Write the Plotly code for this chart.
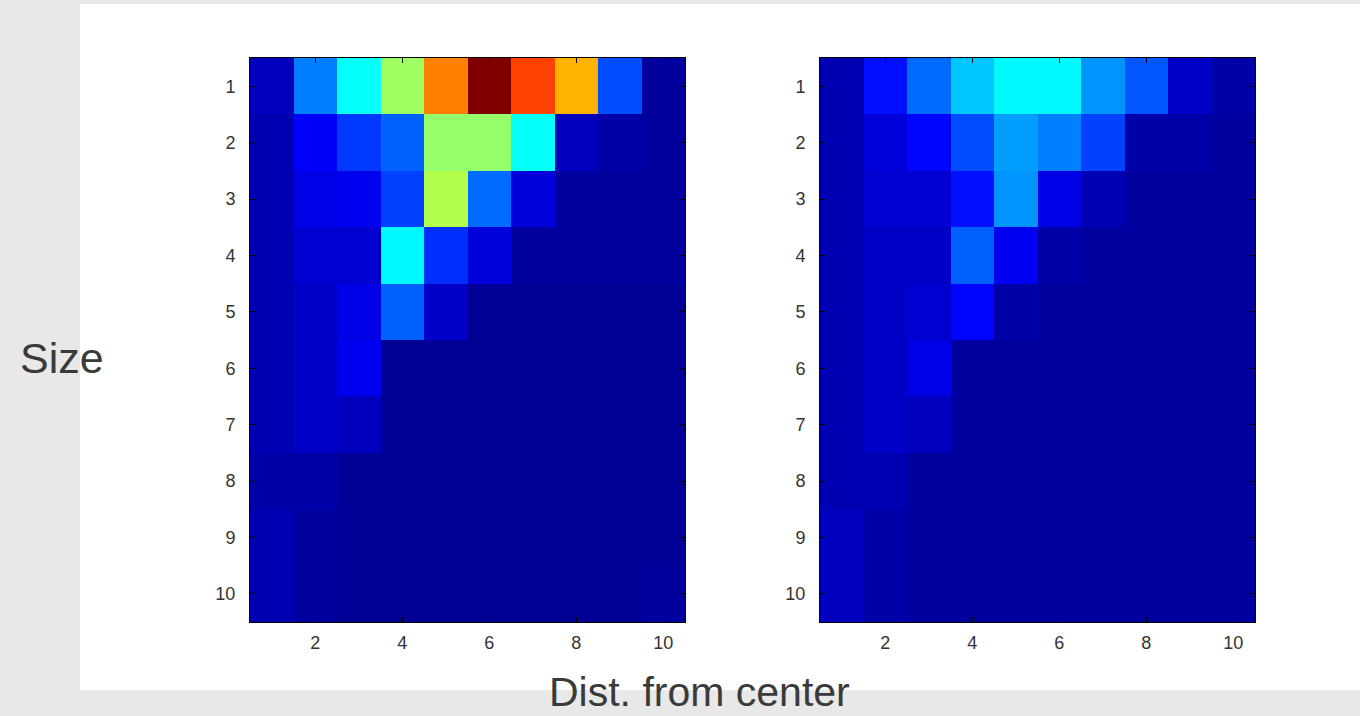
import plotly.graph_objects as go

dist = list(range(1, 11))
sizes = list(range(1, 11))

left_vals = [
    [0.06, 0.25, 0.38, 0.53, 0.75, 1.00, 0.81, 0.70, 0.20, 0.03],
    [0.05, 0.12, 0.18, 0.22, 0.52, 0.52, 0.38, 0.06, 0.04, 0.03],
    [0.05, 0.10, 0.11, 0.19, 0.55, 0.23, 0.09, 0.03, 0.03, 0.03],
    [0.05, 0.08, 0.08, 0.37, 0.17, 0.09, 0.03, 0.03, 0.03, 0.03],
    [0.05, 0.07, 0.10, 0.22, 0.07, 0.02, 0.02, 0.02, 0.02, 0.02],
    [0.05, 0.07, 0.11, 0.02, 0.02, 0.02, 0.02, 0.02, 0.02, 0.02],
    [0.05, 0.07, 0.06, 0.02, 0.02, 0.02, 0.02, 0.02, 0.02, 0.02],
    [0.04, 0.04, 0.02, 0.02, 0.02, 0.02, 0.02, 0.02, 0.02, 0.02],
    [0.05, 0.03, 0.02, 0.02, 0.02, 0.02, 0.02, 0.02, 0.02, 0.02],
    [0.05, 0.03, 0.02, 0.02, 0.02, 0.02, 0.02, 0.02, 0.02, 0.03],
]

right_vals = [
    [0.05, 0.14, 0.23, 0.32, 0.37, 0.37, 0.27, 0.21, 0.07, 0.04],
    [0.05, 0.09, 0.13, 0.20, 0.28, 0.25, 0.19, 0.04, 0.04, 0.03],
    [0.05, 0.08, 0.08, 0.14, 0.27, 0.10, 0.05, 0.03, 0.03, 0.03],
    [0.05, 0.07, 0.07, 0.22, 0.11, 0.04, 0.03, 0.03, 0.03, 0.03],
    [0.05, 0.07, 0.08, 0.13, 0.04, 0.03, 0.03, 0.03, 0.03, 0.03],
    [0.05, 0.07, 0.10, 0.03, 0.03, 0.03, 0.03, 0.03, 0.03, 0.03],
    [0.05, 0.07, 0.06, 0.03, 0.03, 0.03, 0.03, 0.03, 0.03, 0.03],
    [0.05, 0.05, 0.03, 0.03, 0.03, 0.03, 0.03, 0.03, 0.03, 0.03],
    [0.06, 0.04, 0.03, 0.03, 0.03, 0.03, 0.03, 0.03, 0.03, 0.03],
    [0.06, 0.04, 0.03, 0.03, 0.03, 0.03, 0.03, 0.03, 0.03, 0.03],
]

x_ticks = [2, 4, 6, 8, 10]
y_ticks = list(range(1, 11))

jet = [
    [0.0, "rgb(0,0,128)"],
    [0.125, "rgb(0,0,255)"],
    [0.375, "rgb(0,255,255)"],
    [0.625, "rgb(255,255,0)"],
    [0.875, "rgb(255,0,0)"],
    [1.0, "rgb(128,0,0)"],
]

fig = go.Figure()
fig.add_trace(go.Heatmap(z=left_vals, x=dist, y=sizes, colorscale=jet, zmin=0, zmax=1,
                         showscale=False, xaxis="x", yaxis="y"))
fig.add_trace(go.Heatmap(z=right_vals, x=dist, y=sizes, colorscale=jet, zmin=0, zmax=1,
                         showscale=False, xaxis="x2", yaxis="y2"))

W, H = 1360, 716
ydom = [1 - 622 / H, 1 - 58 / H]
tickfont = dict(family="Liberation Sans, Arial, sans-serif", size=18, color="#333333")
axcommon = dict(showgrid=False, zeroline=False, showline=True, linecolor="black", linewidth=1,
                mirror="ticks", ticks="inside", ticklen=5, tickcolor="black", tickfont=tickfont)
labfont = dict(family="Liberation Sans, Arial, sans-serif", size=43, color="#3a3a3a")
labfont2 = dict(family="Liberation Sans, Arial, sans-serif", size=41, color="#3a3a3a")

fig.update_layout(
    width=W, height=H,
    margin=dict(l=0, r=0, t=0, b=0),
    paper_bgcolor="#e8e8e8",
    plot_bgcolor="white",
    xaxis=dict(domain=[250 / W, 685 / W], range=[0.5, 10.5], tickvals=x_ticks, anchor="y",
               ticklabelstandoff=4, **axcommon),
    yaxis=dict(domain=ydom, range=[10.5, 0.5], tickvals=y_ticks, anchor="x",
               ticklabelstandoff=10, **axcommon),
    xaxis2=dict(domain=[820 / W, 1255 / W], range=[0.5, 10.5], tickvals=x_ticks, anchor="y2",
                ticklabelstandoff=4, **axcommon),
    yaxis2=dict(domain=ydom, range=[10.5, 0.5], tickvals=y_ticks, anchor="x2",
                ticklabelstandoff=10, **axcommon),
    shapes=[dict(type="rect", xref="paper", yref="paper", x0=80 / W, x1=1.0,
                 y0=1 - 690 / H, y1=1 - 4 / H, fillcolor="white", line=dict(width=0), layer="below")],
    annotations=[
        dict(text="Size", xref="paper", yref="paper", x=62 / W, y=1 - 358 / H,
             xanchor="center", yanchor="middle", showarrow=False, font=labfont),
        dict(text="Dist. from center", xref="paper", yref="paper", x=700 / W, y=1 - 692 / H,
             xanchor="center", yanchor="middle", showarrow=False, font=labfont2),
    ],
)

fig.write_html("out.html", config={"displayModeBar": False},
               post_script="document.body.style.margin='0';document.body.style.overflow='hidden';"
                           "document.body.style.background='#e8e8e8';")
